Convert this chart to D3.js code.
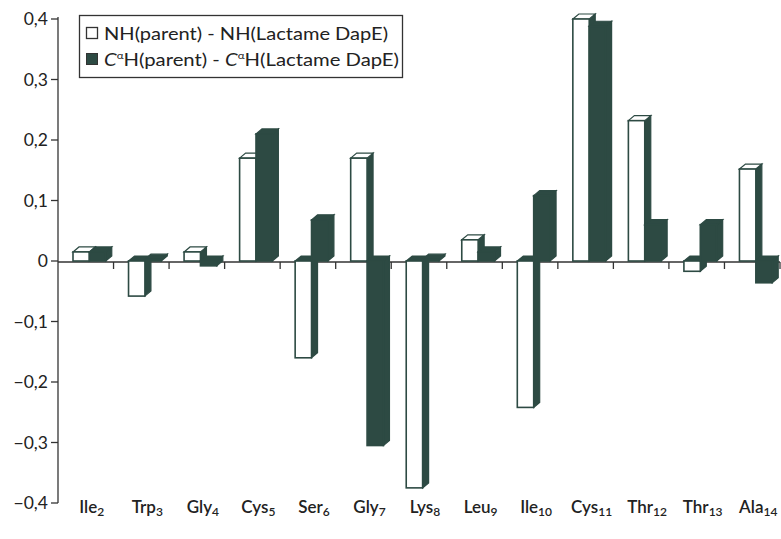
<!DOCTYPE html>
<html><head><meta charset="utf-8">
<script src="https://cdn.jsdelivr.net/npm/d3@7"></script>
<style>html,body{margin:0;padding:0;background:#fff;}svg{display:block;}</style>
</head><body><svg id="chart" width="781" height="539"></svg>
<script>
const residues = ["Ile","Trp","Gly","Cys","Ser","Gly","Lys","Leu","Ile","Cys","Thr","Thr","Ala"];
const positions = ["2","3","4","5","6","7","8","9","10","11","12","13","14"];
const nhValues = [0.015,-0.058,0.015,0.17,-0.16,0.17,-0.375,0.035,-0.242,0.40,0.232,-0.017,0.152];
const caValues = [0.015,0.003,-0.008,0.21,0.068,-0.305,0.003,0.015,0.108,0.388,0.06,0.06,-0.036];
const yTicks = [-0.4,-0.3,-0.2,-0.1,0,0.1,0.2,0.3,0.4];
const seriesNames = ["NH(parent) - NH(Lactame DapE)","H(parent) - ","H(Lactame DapE)"];

const dark = "#2d4a43";
const svg = d3.select("#chart");
const font = "'Comic Sans MS', Lato, 'Open Sans', sans-serif";

const x = d3.scaleBand().domain(d3.range(residues.length)).range([58, 780]).padding(0);
const y = d3.scaleLinear().domain([-0.4, 0.4]).range([503, 19]);
const inner = d3.scaleBand().domain([0,1]).range([0.27, 0.86]);

const dx = 6, dy = -5;

// y axis
svg.append("line").attr("x1",58).attr("x2",58).attr("y1",y(0.4)-2).attr("y2",y(-0.4)).attr("stroke","#333").attr("stroke-width",1.3);
yTicks.forEach(t=>{
  svg.append("line").attr("x1",51).attr("x2",58).attr("y1",y(t)).attr("y2",y(t)).attr("stroke","#333").attr("stroke-width",1.3);
  svg.append("text").attr("x",48).attr("y",y(t)).attr("dy","0.35em").attr("text-anchor","end")
    .attr("font-family",font).attr("font-size",17.5).attr("fill","#222")
    .text(t===0?"0":d3.format(".1f")(t).replace(".",","));
});

// zero line and category ticks
svg.append("line").attr("x1",58).attr("x2",780).attr("y1",y(0)+1).attr("y2",y(0)+1).attr("stroke","#333").attr("stroke-width",1.3);
d3.range(1, residues.length+1).forEach(i=>{
  const xx = 58 + i*x.step();
  svg.append("line").attr("x1",xx).attr("x2",xx).attr("y1",y(0)+1).attr("y2",y(0)+8).attr("stroke","#333").attr("stroke-width",1.3);
});

function bar(g, xl, w, v, frontFill, sideFill, topFill){
  const yt = y(Math.max(v,0)), yb = y(Math.min(v,0));
  const xr = xl + w;
  g.append("path").attr("d",`M${xr},${yt}L${xr+dx},${yt+dy}L${xr+dx},${yb+dy}L${xr},${yb}Z`)
    .attr("fill",sideFill).attr("stroke",dark).attr("stroke-width",1.2);
  g.append("path").attr("d",`M${xl},${yt}L${xl+dx},${yt+dy}L${xr+dx},${yt+dy}L${xr},${yt}Z`)
    .attr("fill",topFill).attr("stroke",dark).attr("stroke-width",1.2);
  g.append("rect").attr("x",xl).attr("y",yt).attr("width",w).attr("height",Math.max(yb-yt,0.5))
    .attr("fill",frontFill).attr("stroke",dark).attr("stroke-width",1.6);
}

const bars = svg.append("g");
residues.forEach((r,i)=>{
  const bw = x.bandwidth();
  const x0 = x(i);
  const w = inner.bandwidth()*bw;
  bar(bars, x0 + inner(0)*bw, w, nhValues[i], "#fff", dark, nhValues[i] < 0 ? dark : "#fff");
  bar(bars, x0 + inner(1)*bw, w, caValues[i], dark, dark, dark);
});

// category labels
residues.forEach((r,i)=>{
  const t = svg.append("text").attr("x", x(i)+x.bandwidth()/2+6).attr("y",513).attr("text-anchor","middle")
    .attr("font-family",font).attr("font-size",17).attr("font-weight",600).attr("fill","#222");
  t.append("tspan").text(r);
  t.append("tspan").attr("font-size",12).attr("dy",3).text(positions[i]);
});

// legend
const lg = svg.append("g");
lg.append("rect").attr("x",79.5).attr("y",15.5).attr("width",323).attr("height",62).attr("fill","#fff").attr("stroke","#333").attr("stroke-width",1.3);
lg.append("rect").attr("x",86.5).attr("y",27.5).attr("width",11).attr("height",11).attr("fill","#fff").attr("stroke","#333").attr("stroke-width",1.3);
lg.append("rect").attr("x",86.5).attr("y",53.5).attr("width",11).attr("height",11).attr("fill",dark).attr("stroke","#333").attr("stroke-width",1);
lg.append("text").attr("x",104).attr("y",40).attr("font-family",font).attr("font-size",17.5).attr("fill","#222")
  .attr("textLength",284).attr("lengthAdjust","spacingAndGlyphs").text(seriesNames[0]);
const t2 = lg.append("text").attr("x",104).attr("y",66).attr("font-family",font).attr("font-size",17.5).attr("fill","#222")
  .attr("textLength",295).attr("lengthAdjust","spacingAndGlyphs");
t2.append("tspan").attr("font-style","italic").text("C");
t2.append("tspan").attr("font-size",10).attr("dy",-7).text("α");
t2.append("tspan").attr("dy",7).text(seriesNames[1]);
t2.append("tspan").attr("font-style","italic").text("C");
t2.append("tspan").attr("font-size",10).attr("dy",-7).text("α");
t2.append("tspan").attr("dy",7).text(seriesNames[2]);
</script></body></html>
